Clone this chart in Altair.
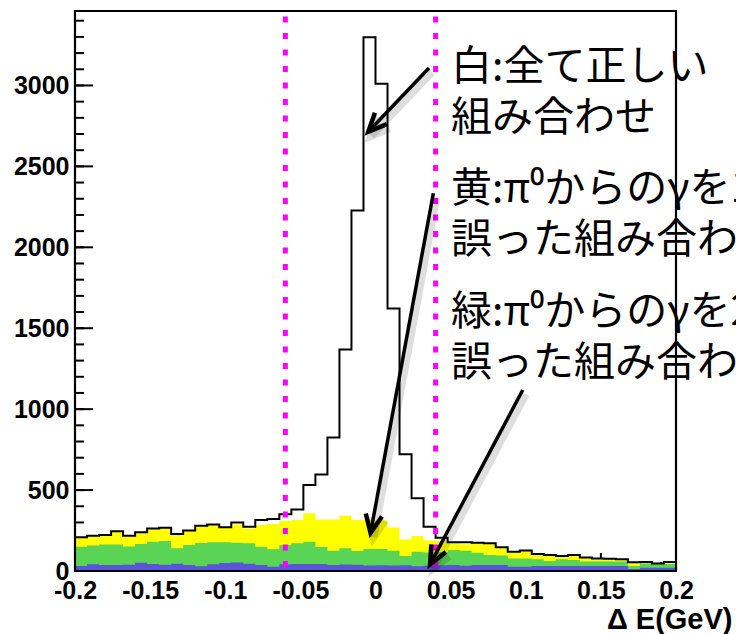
import math

import altair as alt
import pandas as pd

# Delta-E binning: 50 bins of 8 MeV between -0.2 and 0.2 GeV
DE_MIN, DE_MAX, NBINS = -0.2, 0.2, 50
BIN_W = (DE_MAX - DE_MIN) / NBINS
Y_MAX = 3460

# entries per bin for each category, bottom of the stack first
blue_counts = [31, 41, 37, 37, 39, 51, 43, 39, 45, 37, 29, 41, 49, 53, 45, 37, 27,
               41, 43, 43, 43, 37, 40, 38, 34, 36, 34, 36, 30, 32, 35, 37, 33, 37,
               37, 37, 27, 27, 31, 31, 31, 31, 31, 31, 31, 31, 12, 20, 20, 20]
green_counts = [119, 117, 126, 126, 113, 116, 138, 146, 95, 123, 144, 136, 128, 122,
                126, 113, 107, 119, 128, 138, 105, 88, 100, 85, 102, 100, 91, 57, 89,
                83, 83, 93, 92, 76, 62, 58, 51, 51, 41, 31, 41, 37, 27, 27, 27, 27,
                19, 27, 21, 23]
yellow_counts = [58, 60, 57, 80, 64, 68, 78, 82, 86, 91, 103, 107, 90, 113, 92, 134,
                 156, 149, 144, 176, 170, 193, 201, 192, 182, 176, 143, 102, 97, 73,
                 67, 41, 40, 58, 68, 51, 41, 48, 27, 37, 16, 31, 26, 18, 14, 10, 20,
                 4, 2, 10]
white_counts = [0, 0, 2, 2, 2, 4, 4, 0, 2, 0, 4, 4, 3, 12, 11, 31, 31, 41, 65, 174,
                279, 507, 1027, 1913, 2980, 2698, 1354, 527, 233, 86, 20, 6, 12, 4, 4,
                0, 0, 0, 6, 0, 5, 0, 0, 2, 4, 4, 3, 5, 4, 3]

# signal-window cuts
cut_values = [-0.06, 0.04]

# axis ticks
x_major = [-0.2, -0.15, -0.1, -0.05, 0, 0.05, 0.1, 0.15, 0.2]
x_minor = [round(-0.2 + 0.01 * i, 2) for i in range(41)]
y_major = [0, 500, 1000, 1500, 2000, 2500, 3000]
y_minor = list(range(100, 3500, 100))

# annotation texts and arrows (data coordinates)
note_lines = ["白:全て正しい", "組み合わせ",
              "黄:π⁰からのγを1つ", "誤った組み合わせ",
              "緑:π⁰からのγを2つ", "誤った組み合わせ"]
note_x = [0.0503] * 6
note_y = [3034, 2719, 2280, 1965, 1520, 1205]
arrow_x0 = [0.0356, 0.0385, 0.0980]
arrow_y0 = [3108, 2334, 1118]
arrow_x1 = [-0.0048, -0.0033, 0.0363]
arrow_y1 = [2714, 235, 41]

W, H = 601, 560

# ---- tables ----
def cumulative(*parts):
    return [sum(v) for v in zip(*parts)]

blue_top = cumulative(blue_counts)
green_top = cumulative(blue_counts, green_counts)
yellow_top = cumulative(blue_counts, green_counts, yellow_counts)
total = cumulative(blue_counts, green_counts, yellow_counts, white_counts)

edges = [round(DE_MIN + i * BIN_W, 4) for i in range(NBINS + 1)]
hist = pd.DataFrame({
    "dE": edges,
    "blue": blue_top + blue_top[-1:],
    "green": green_top + green_top[-1:],
    "yellow": yellow_top + yellow_top[-1:],
    "total": total + total[-1:],
})

sx = W / (DE_MAX - DE_MIN)
sy = H / Y_MAX
arrows = pd.DataFrame({"x0": arrow_x0, "y0": arrow_y0, "x1": arrow_x1, "y1": arrow_y1})
arrows["ang"] = [
    math.degrees(math.atan2(-(b1 - b0) * sy, (a1 - a0) * sx)) % 360
    for a0, b0, a1, b1 in zip(arrow_x0, arrow_y0, arrow_x1, arrow_y1)
]
notes = pd.DataFrame({"x": note_x, "y": note_y, "t": note_lines})

x_scale = alt.Scale(domain=[DE_MIN, DE_MAX], nice=False, zero=False)
y_scale = alt.Scale(domain=[0, Y_MAX], nice=False)

LABEL_FONT = "Liberation Sans"

x_axis = alt.Axis(
    values=x_major,
    labelExpr="datum.value < 0 ? '-' + format(-datum.value, '~g') : format(datum.value, '~g')",
    ticks=False, domain=False, grid=False,
    labelFlush=False, labelOverlap=False, labelPadding=7,
    labelFont=LABEL_FONT, labelFontWeight="bold", labelFontSize=25, labelColor="black",
    title="Δ E(GeV)", titleFont=LABEL_FONT, titleFontWeight="bold", titleFontSize=29,
    titleColor="black", titleAlign="right", titleAnchor="end", titleBaseline="alphabetic",
    titleX=W + 56, titleY=57,
)
y_axis = alt.Axis(
    values=y_major, format="d",
    ticks=False, domain=False, grid=False,
    labelFlush=False, labelOverlap=False, labelPadding=6,
    labelFont=LABEL_FONT, labelFontWeight="bold", labelFontSize=25, labelColor="black",
    title="",
)


def X(field):
    return alt.X(field, scale=x_scale, axis=x_axis)


def Y(field, **kw):
    return alt.Y(field, scale=y_scale, axis=y_axis, **kw)


# ---- tick marks (drawn first so the histogram covers them) ----
def ticks_y(values, length):
    return alt.Chart(pd.DataFrame({"v": values})).mark_rule(color="black", strokeWidth=2).encode(
        y=Y("v:Q"), x=alt.value(0), x2=alt.value(length))


def ticks_x(values, length):
    return alt.Chart(pd.DataFrame({"v": values})).mark_rule(color="black", strokeWidth=2).encode(
        x=X("v:Q"), y=alt.value(H), y2=alt.value(H - length))


# ---- stacked histogram ----
base = alt.Chart(hist)
yellow_area = base.mark_area(interpolate="step-after", color="#ffff00").encode(
    x=X("dE:Q"), y=Y("yellow:Q", stack=None))
green_area = base.mark_area(interpolate="step-after", color="#59d454").encode(
    x=X("dE:Q"), y=Y("green:Q", stack=None))
blue_area = base.mark_area(interpolate="step-after", color="#5954d8").encode(
    x=X("dE:Q"), y=Y("blue:Q", stack=None))
outline = base.mark_line(interpolate="step-after", color="black", strokeWidth=2).encode(
    x=X("dE:Q"), y=Y("total:Q"))

# ---- cut lines ----
cuts = alt.Chart(pd.DataFrame({"c": cut_values})).mark_rule(
    color="#ff00ff", strokeWidth=5, strokeDash=[6, 10.5], strokeDashOffset=11
).encode(x=X("c:Q"), y=alt.value(0), y2=alt.value(H))

# ---- frame ----
frame = alt.Chart(pd.DataFrame({"f": [0]})).mark_rect(
    fillOpacity=0, stroke="black", strokeWidth=2.2
).encode(x=alt.value(0), x2=alt.value(W), y=alt.value(0), y2=alt.value(H))

# ---- annotation arrows ----
head_path = "M-1,-0.45L0,0L-1,0.45"
arr = alt.Chart(arrows)
enc_shaft = dict(x=X("x0:Q"), y=Y("y0:Q"), x2="x1:Q", y2="y1:Q")
enc_head = dict(x=X("x1:Q"), y=Y("y1:Q"), angle=alt.Angle("ang:Q", scale=None))
shaft_shadow = arr.mark_rule(color="#000000", opacity=0.13, strokeWidth=8,
                             xOffset=3, yOffset=4, x2Offset=3, y2Offset=4).encode(**enc_shaft)
head_shadow = arr.mark_point(shape=head_path, filled=False, size=1335, color="#000000",
                             opacity=0.13, strokeWidth=8, xOffset=3, yOffset=4).encode(**enc_head)
shafts = arr.mark_rule(color="black", strokeWidth=3.5).encode(**enc_shaft)
heads = arr.mark_point(shape=head_path, filled=False, size=1335, color="black", opacity=1,
                       strokeWidth=4.5, strokeJoin="miter").encode(**enc_head)

# ---- annotation text ----
texts = alt.Chart(notes).mark_text(
    align="left", baseline="alphabetic", font="Noto Sans CJK JP", fontSize=41, color="black"
).encode(x=X("x:Q"), y=Y("y:Q"), text="t:N")

chart = alt.layer(
    ticks_x(x_minor, 9), ticks_x(x_major, 18), ticks_y(y_minor, 9), ticks_y(y_major, 18),
    yellow_area, green_area, blue_area, outline, cuts, frame,
    shaft_shadow, head_shadow, shafts, heads, texts,
).properties(
    width=W, height=H,
    padding={"left": 75, "top": 11, "right": 60, "bottom": 63},
    autosize=alt.AutoSizeParams(type="none"),
    background="white",
).configure_view(strokeWidth=0)

chart.save("out.html", embed_options={"renderer": "svg", "actions": False})
